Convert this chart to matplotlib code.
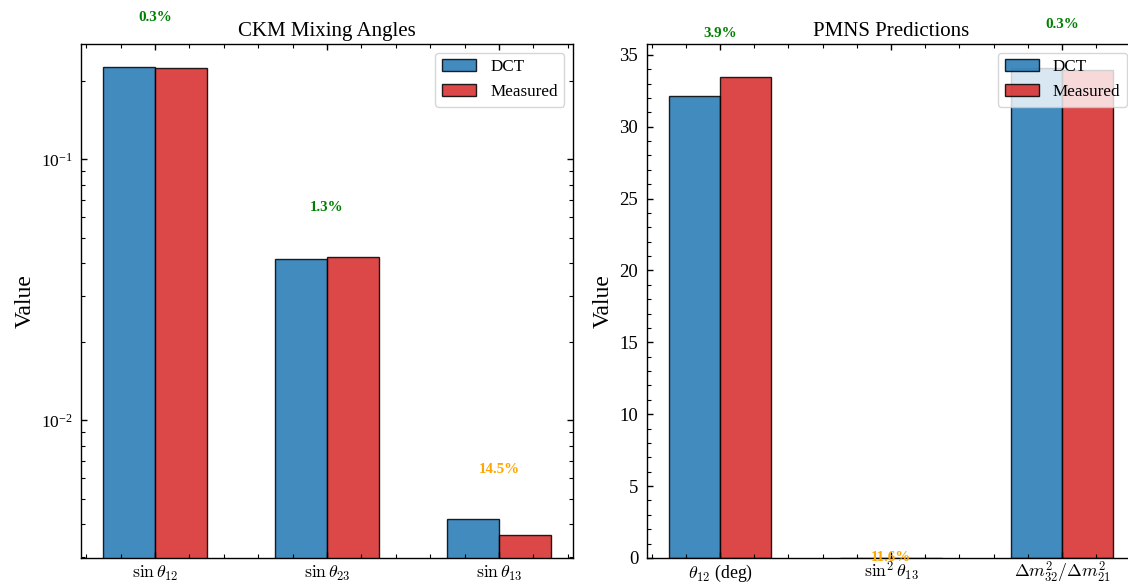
import numpy as np
import matplotlib
matplotlib.use("Agg")
import matplotlib.pyplot as plt

plt.rcParams['font.family'] = ['Liberation Serif', 'DejaVu Serif']
plt.rcParams['mathtext.fontset'] = 'cm'
plt.rcParams['xtick.direction'] = 'in'
plt.rcParams['ytick.direction'] = 'in'
plt.rcParams['xtick.top'] = True
plt.rcParams['ytick.right'] = True
plt.rcParams['xtick.minor.visible'] = True
plt.rcParams['ytick.minor.visible'] = True
plt.rcParams['xtick.major.size'] = 4.5
plt.rcParams['ytick.major.size'] = 4.5
plt.rcParams['xtick.minor.size'] = 2.7
plt.rcParams['ytick.minor.size'] = 2.7
plt.rcParams['xtick.major.width'] = 1.0
plt.rcParams['ytick.major.width'] = 1.0
plt.rcParams['xtick.minor.width'] = 0.8
plt.rcParams['ytick.minor.width'] = 0.8
plt.rcParams['xtick.major.pad'] = 14.3
plt.rcParams['ytick.major.pad'] = 6
plt.rcParams['axes.linewidth'] = 1.0

# ---- data ----
ckm_labels = [r'$\sin\theta_{12}$', r'$\sin\theta_{23}$', r'$\sin\theta_{13}$']
ckm_dct = [0.2250, 0.04165, 0.00418]
ckm_meas = [0.2243, 0.0422, 0.00365]
ckm_pct = ['0.3%', '1.3%', '14.5%']

pmns_labels = [r'$\theta_{12}$ (deg)', r'$\sin^2\theta_{13}$', r'$\Delta m^2_{32}/\Delta m^2_{21}$']
pmns_dct = [32.13, 0.02455, 34.05]
pmns_meas = [33.44, 0.0220, 33.95]
pmns_pct = ['3.9%', '11.6%', '0.3%']

W, H = 1128, 585
fig = plt.figure(figsize=(W / 100, H / 100), dpi=100)
ax1 = fig.add_axes([81 / W, (H - 558) / H, 492 / W, 514 / H])
ax2 = fig.add_axes([646.5 / W, (H - 558) / H, 489 / W, 514 / H])

width = 0.3
blue = 'tab:blue'
red = 'tab:red'


def pct_color(s):
    v = float(s.rstrip('%'))
    if v < 5:
        return 'green'
    elif v < 20:
        return 'orange'
    return 'red'


def draw(ax, labels, dct, meas, pct, title, log, factor, ysize):
    x = np.arange(len(labels))
    ax.bar(x - width / 2, dct, width, color=blue, alpha=0.85,
           edgecolor='black', linewidth=1.0, label='DCT')
    ax.bar(x + width / 2, meas, width, color=red, alpha=0.85,
           edgecolor='black', linewidth=1.0, label='Measured')
    if log:
        ax.set_yscale('log')
    ax.set_xticks(x)
    ax.set_xticklabels(labels, fontsize=12.8, va='baseline')
    ax.tick_params(axis='y', labelsize=ysize)
    ax.set_ylabel('Value', fontsize=17)
    ax.set_title(title, fontsize=15)
    ax.legend(loc='upper right', fontsize=12.3)
    for i in range(len(labels)):
        y = max(dct[i], meas[i]) * factor
        ax.text(x[i], y, pct[i], ha='center', va='center', fontsize=10.8,
                fontweight='bold', color=pct_color(pct[i]))


draw(ax1, ckm_labels, ckm_dct, ckm_meas, ckm_pct, 'CKM Mixing Angles', True, 1.55, 12.5)
draw(ax2, pmns_labels, pmns_dct, pmns_meas, pmns_pct, 'PMNS Predictions', False, 1.09, 13.5)

fig.savefig('out.png', dpi=100)
